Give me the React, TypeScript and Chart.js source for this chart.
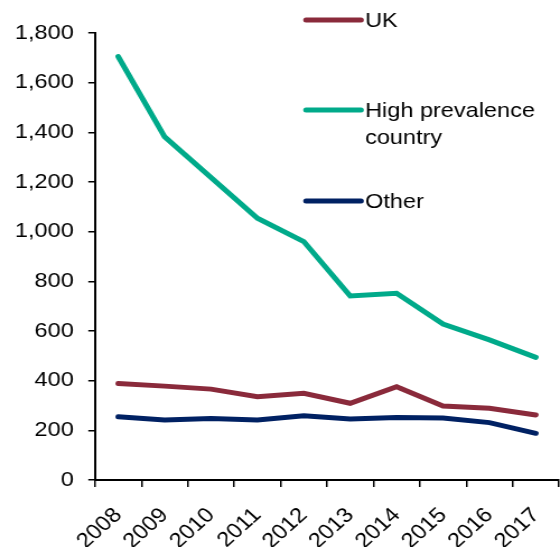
import React, { useEffect, useRef } from "react";
import { Chart, registerables } from "chart.js";

Chart.register(...registerables);

const years = ["2008", "2009", "2010", "2011", "2012", "2013", "2014", "2015", "2016", "2017"];
const ukValues = [389, 378, 366, 335, 349, 309, 376, 298, 289, 262];
const highPrevalenceValues = [1705, 1382, 1218, 1054, 960, 741, 752, 628, 564, 494];
const otherValues = [255, 242, 248, 242, 259, 246, 252, 250, 231, 188];
const yMin = 0;
const yMax = 1800;
const yStep = 200;

const seriesNames = ["UK", "High prevalence country", "Other"];
const legendLines = [["UK"], ["High prevalence", "country"], ["Other"]];
const colors = ["#8A2A3B", "#00AA8A", "#002163"];

const FONT = 'Arial, "Liberation Sans", sans-serif';

// horizontal stretch of the whole drawing (the reference looks widened)
const SX = 1.12;
const W = 560;
const H = 547;
const CW = Math.round(W / SX);

const legendPlugin = {
  id: "customLegend",
  afterDraw(chart: any) {
    const ctx = chart.ctx;
    const x0 = 306 / SX;
    const x1 = 361 / SX;
    const tx = 365 / SX;
    const ys = [20, 110, 201];
    ctx.save();
    legendLines.forEach((lines, i) => {
      const y = ys[i];
      ctx.strokeStyle = colors[i];
      ctx.lineWidth = 5;
      ctx.lineCap = "round";
      ctx.beginPath();
      ctx.moveTo(x0, y);
      ctx.lineTo(x1, y);
      ctx.stroke();
      ctx.fillStyle = "#000";
      ctx.font = `21px ${FONT}`;
      ctx.textAlign = "left";
      ctx.textBaseline = "middle";
      lines.forEach((t, j) => {
        ctx.fillText(t, tx, y + 1 + j * 27);
      });
    });
    ctx.restore();
  },
};

export default function App() {
  const ref = useRef<HTMLCanvasElement | null>(null);
  useEffect(() => {
    if (!ref.current) return;
    const chart = new Chart(ref.current, {
      type: "line",
      data: {
        labels: years,
        datasets: [ukValues, highPrevalenceValues, otherValues].map((d, i) => ({
          label: seriesNames[i],
          data: d,
          borderColor: colors[i],
          backgroundColor: colors[i],
          borderWidth: 5,
          borderCapStyle: "round" as const,
          pointRadius: 0,
          pointHoverRadius: 0,
          tension: 0,
          fill: false,
        })),
      },
      options: {
        animation: false,
        responsive: false,
        maintainAspectRatio: false,
        layout: { padding: { top: 33, right: CW - 559 / SX, bottom: 0, left: 0 } },
        plugins: { legend: { display: false }, tooltip: { enabled: false } },
        scales: {
          x: {
            type: "category",
            offset: true,
            grid: {
              offset: true,
              drawOnChartArea: false,
              drawTicks: true,
              tickLength: 7,
              color: "#000",
              lineWidth: 1.5,
            },
            border: { display: true, color: "#000", width: 2 },
            ticks: {
              color: "#000",
              font: { family: FONT, size: 21 },
              autoSkip: false,
              maxRotation: 45,
              minRotation: 45,
              padding: 16,
            },
            afterFit(scale: any) {
              scale.height = 67;
              scale.paddingLeft = 0;
              scale.paddingRight = 0;
            },
          },
          y: {
            min: yMin,
            max: yMax,
            grid: {
              drawOnChartArea: false,
              drawTicks: true,
              tickLength: 6,
              color: "#000",
              lineWidth: 1.5,
            },
            border: { display: true, color: "#000", width: 2 },
            ticks: {
              stepSize: yStep,
              color: "#000",
              font: { family: FONT, size: 21 },
              padding: 13,
              callback: (v: any) => Number(v).toLocaleString("en-US"),
            },
            afterFit(scale: any) {
              scale.width = 95 / SX;
            },
          },
        },
      },
      plugins: [legendPlugin],
    });
    return () => chart.destroy();
  }, []);
  return (
    <div style={{ position: "absolute", left: 0, top: 0, width: W, height: H, background: "#fff", overflow: "hidden" }}>
      <div style={{ width: CW, height: H, transform: `scaleX(${W / CW})`, transformOrigin: "0 0" }}>
        <canvas ref={ref} width={CW} height={H} style={{ width: CW, height: H, display: "block" }} />
      </div>
    </div>
  );
}
